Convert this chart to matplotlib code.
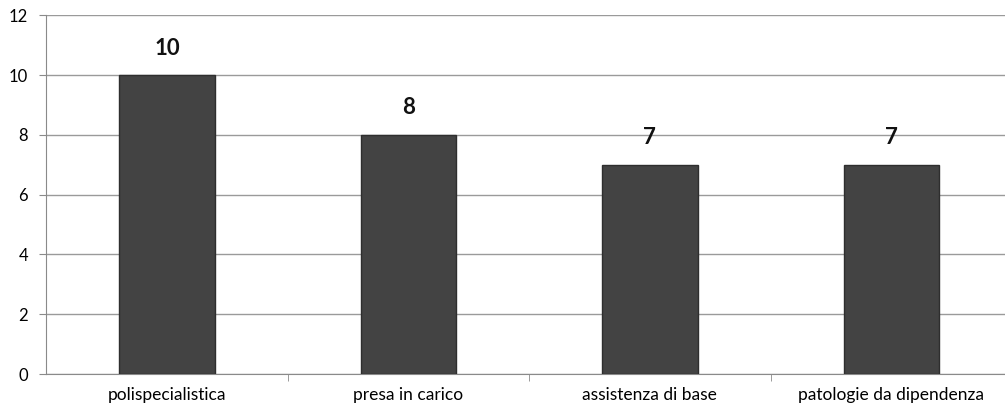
import matplotlib.pyplot as plt
from matplotlib.ticker import FixedLocator

categories = ["polispecialistica", "presa in carico", "assistenza di base", "patologie da dipendenza"]
values = [10, 8, 7, 7]
yticks = [0, 2, 4, 6, 8, 10, 12]

plt.rcParams['font.family'] = ['Lato', 'DejaVu Sans']

fig = plt.figure(figsize=(10.05, 4.11), dpi=100)
ax = fig.add_axes([0.046, 0.09, 0.961, 0.873])

x = list(range(len(categories)))
bars = ax.bar(x, values, width=0.395, color='#434343', edgecolor='#2e2e2e', linewidth=1.0, zorder=3)

for xi, v in zip(x, values):
    ax.text(xi, v + 0.55, str(v), ha='center', va='bottom', fontsize=16, fontweight='bold', color='#111111')

ax.set_xlim(-0.5, len(categories) - 0.5)
ax.set_ylim(0, 12)
ax.set_yticks(yticks)
ax.yaxis.grid(True, color='#9a9a9a', linewidth=1.0, zorder=0)
ax.set_axisbelow(True)

ax.set_xticks(x)
ax.set_xticklabels(categories, fontsize=12.5)
ax.tick_params(axis='x', which='major', length=0, pad=9)
ax.xaxis.set_minor_locator(FixedLocator([0.5, 1.5, 2.5]))
ax.tick_params(axis='x', which='minor', length=5, color='#8a8a8a')
ax.tick_params(axis='y', length=5, color='#8a8a8a', labelsize=12, pad=8)

for side in ['top', 'right']:
    ax.spines[side].set_visible(False)
for side in ['left', 'bottom']:
    ax.spines[side].set_color('#8a8a8a')

fig.savefig('out.png', dpi=100)
